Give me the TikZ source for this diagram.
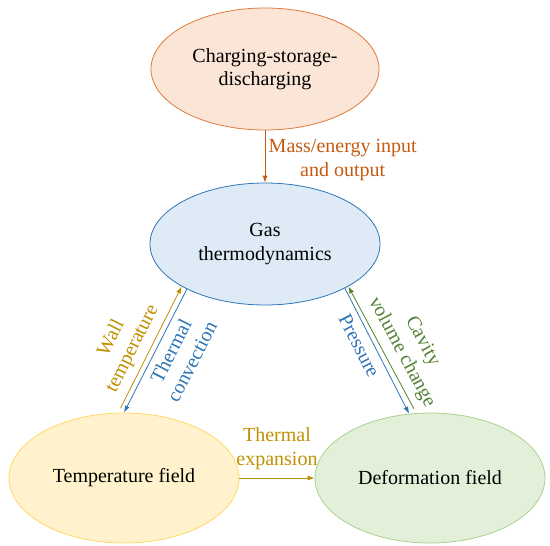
\documentclass[tikz,border=0pt]{standalone}
\usepackage{fontspec}
\setmainfont{Liberation Serif}
\usetikzlibrary{shapes.geometric,arrows.meta}
\definecolor{chargefill}{HTML}{FBE5D6}
\definecolor{chargedraw}{HTML}{E07B3C}
\definecolor{chargetext}{HTML}{C55A11}
\definecolor{gasfill}{HTML}{DEEBF7}
\definecolor{gasdraw}{HTML}{2E75B6}
\definecolor{tempfill}{HTML}{FFF2CC}
\definecolor{tempdraw}{HTML}{FFD966}
\definecolor{goldtext}{HTML}{BF9000}
\definecolor{deffill}{HTML}{E2F0D9}
\definecolor{defdraw}{HTML}{A9D18E}
\definecolor{greentext}{HTML}{548235}
\tikzset{myellipse/.style={draw,ellipse,line width=0.8pt,minimum width=230pt,minimum height=122pt,align=center,text=black},
myarrow/.style={line width=0.8pt,-{Latex[length=7pt,width=5pt]}}}

\begin{document}
\begin{tikzpicture}[x=1pt,y=-1pt,font=\fontsize{20}{23.5}\selectfont]
\useasboundingbox (0,0) rectangle (550,546);
\node[myellipse,draw=chargedraw,fill=chargefill,minimum width=228pt] (charge) at (265,69) {Charging-storage-\\discharging};
\node[myellipse,draw=gasdraw,fill=gasfill] (gas) at (265,244) {Gas\\thermodynamics};
\node[myellipse,draw=tempdraw,fill=tempfill,minimum height=130pt] (temp) at (124,478) {Temperature field};
\node[myellipse,draw=defdraw,fill=deffill,minimum height=130pt] (def) at (430,478) {Deformation field};
\draw[myarrow,chargetext] (charge) -- node[right,align=center,yshift=-3.5pt]{Mass/energy input\\and output} (gas);
\draw[myarrow,goldtext,shorten <=5pt] (temp.95) -- node[sloped,above=3pt,pos=.45,align=center]{Wall\\temperature} (gas.207);
\draw[myarrow,gasdraw] (gas.210) -- node[sloped,below=3pt,pos=.45,align=center]{Thermal\\convection} (temp.90);
\draw[myarrow,gasdraw] (gas.331) -- node[sloped,below=3pt,pos=.41]{Pressure} (def.108);
\draw[myarrow,greentext,shorten <=5pt] (def.102) -- node[sloped,above=3pt,pos=.42,align=center]{Cavity\\volume change} (gas.333);
\draw[myarrow,goldtext] (temp) -- node[above=5pt,align=center]{Thermal\\expansion} (def);
\end{tikzpicture}
\end{document}
